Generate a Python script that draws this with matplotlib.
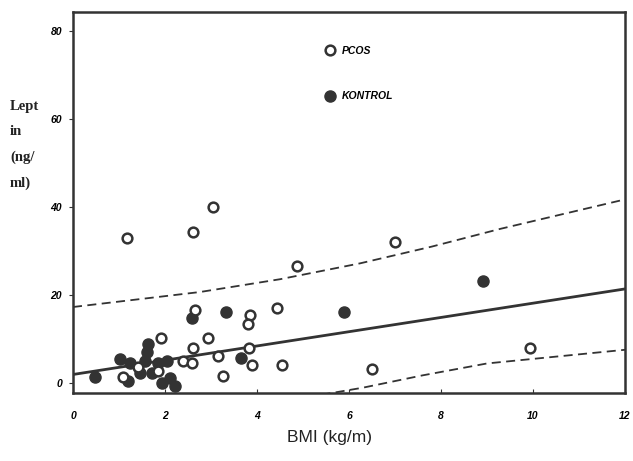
import numpy as np
import matplotlib.pyplot as plt
from matplotlib.lines import Line2D

# PCOS (open circles)
pcos_bmi = [1.17, 2.61, 3.04, 7.00, 4.87, 2.65, 3.85, 3.80, 4.43, 2.93, 1.91, 2.61,
            3.15, 3.83, 3.89, 4.54, 3.26, 6.50, 9.93, 2.39, 2.59, 1.09, 1.41, 1.85]
pcos_leptin = [33.0, 34.2, 39.9, 32.1, 26.7, 16.6, 15.4, 13.4, 17.0, 10.2, 10.2, 8.1,
               6.3, 7.9, 4.2, 4.2, 1.7, 3.3, 7.9, 5.1, 4.7, 1.5, 3.8, 2.9]

# KONTROL (filled circles)
kont_bmi = [8.91, 5.89, 3.33, 2.59, 3.65, 1.63, 1.61, 1.57, 1.02, 1.24, 0.48, 1.20,
            1.46, 1.85, 1.72, 2.11, 1.93, 2.22, 2.04]
kont_leptin = [23.2, 16.1, 16.1, 14.7, 5.8, 8.8, 7.0, 5.1, 5.6, 4.7, 1.5, 0.6,
               2.4, 4.7, 2.4, 1.3, 0.1, -0.6, 5.1]

# regression line and dashed bands
fit_x = [0, 12]
fit_y = [2.0, 21.4]
upper_x = [0, 2.76, 4.5, 6.24, 7.8, 9.28, 12]
upper_y = [17.3, 20.7, 23.6, 27.2, 31.0, 35.0, 41.7]
lower_x = [5.4, 6.3, 7.6, 9.0, 12]
lower_y = [-2.6, -1.0, 1.8, 4.5, 7.6]

xticks = [0, 2, 4, 6, 8, 10, 12]
yticks = [0, 20, 40, 60, 80]

ink = '#333333'

fig = plt.figure(figsize=(6.33, 4.61), dpi=100)
ax = fig.add_axes([73 / 633, 1 - 393 / 461, 552 / 633, 381 / 461])

ax.plot(fit_x, fit_y, color=ink, lw=2.0)
ax.plot(upper_x, upper_y, color=ink, lw=1.3, ls=(0, (5, 3)))
ax.plot(lower_x, lower_y, color=ink, lw=1.3, ls=(0, (5, 3)))

ax.plot(kont_bmi, kont_leptin, 'o', ms=8, color=ink, mec=ink, ls='none')
ax.plot(pcos_bmi, pcos_leptin, 'o', ms=7, mfc='white', mec=ink, mew=1.8, ls='none')

ax.set_xlim(0, 12)
ax.set_ylim(-2.2, 84.2)
ax.set_xticks(xticks)
ax.set_yticks(yticks)
tick_font = dict(family='Liberation Sans', weight='bold', style='italic', size=7.5)
ax.set_xticklabels([str(t) for t in xticks], fontdict=tick_font)
ax.set_yticklabels([str(t) for t in yticks], fontdict=tick_font)
ax.tick_params(axis='x', direction='in', length=3, pad=13, color=ink)
ax.tick_params(axis='y', direction='out', length=3, pad=5, color=ink)
for s in ax.spines.values():
    s.set_color(ink)
    s.set_linewidth(1.8)

handles = [
    Line2D([], [], marker='o', ls='none', ms=7, mfc='white', mec=ink, mew=1.8),
    Line2D([], [], marker='o', ls='none', ms=8, color=ink),
]
ax.legend(handles, ['PCOS', 'KONTROL'], loc='upper left',
          bbox_to_anchor=(0.457, 0.912), frameon=False, handlelength=1,
          handletextpad=0.6, labelspacing=3.45, borderpad=0, borderaxespad=0,
          prop=dict(family='Liberation Sans', weight='bold', style='italic', size=7.5))

fig.text(10 / 633, 1 - 100 / 461, 'Lept\nin\n(ng/\nml)', ha='left', va='top',
         family='Liberation Serif', weight='bold', size=10.5, linespacing=2.2,
         color='#222222')
fig.text(0.52, 1 - 437 / 461, 'BMI (kg/m)', ha='center', va='center',
         family='Liberation Sans', size=12.5, color='#222222')

fig.savefig('out.png', dpi=100)
